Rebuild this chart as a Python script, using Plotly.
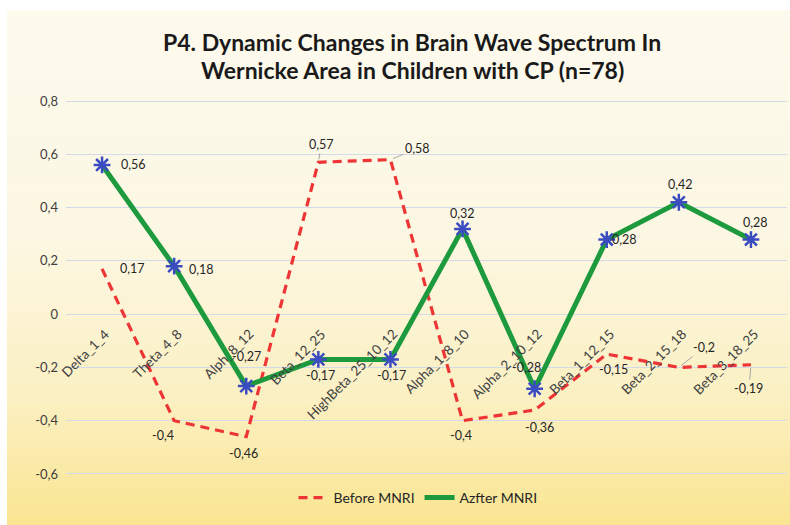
import plotly.graph_objects as go

categories = ["Delta_1_4", "Theta_4_8", "Alph_8_12", "Beta_12_25", "HighBeta_25_10_12",
              "Alpha_1_8_10", "Alpha_2_10_12", "Beta_1_12_15", "Beta_2_15_18", "Beta_3_18_25"]
before_mnri = [0.17, -0.4, -0.46, 0.57, 0.58, -0.4, -0.36, -0.15, -0.2, -0.19]
after_mnri = [0.56, 0.18, -0.27, -0.17, -0.17, 0.32, -0.28, 0.28, 0.42, 0.28]
y_tick_vals = [0.8, 0.6, 0.4, 0.2, 0, -0.2, -0.4, -0.6]
y_tick_text = ["0,8", "0,6", "0,4", "0,2", "0", "-0,2", "-0,4", "-0,6"]
title_lines = ["P4. Dynamic Changes in Brain Wave Spectrum In",
               "Wernicke Area in Children with CP (n=78)"]

# label placement (pixel offsets from point), style only
after_off = [(31, 0), (27, -3), (0, 30), (2, -16), (1, -16), (0, 15), (-8, 21), (18, 0), (2, 18), (5, 17)]
before_off = [(30, 0), (-11, -15), (-3, -17), (3, 18), (27, 11), (-2, -15), (5, -17), (7, -15), (25, 20), (-2, -24)]
before_leader = [False, False, False, True, True, False, False, False, True, True]

FONT = "Lato"
W, H = 790, 525
ML, MR, MT, MB = 66, 3, 96, 46
PW, PH = W - ML - MR, H - MT - MB

def fmt(v):
    return f"{v:g}".replace(".", ",")

def px2paper(px, py):
    return (px - ML) / PW, (H - MB - py) / PH

fig = go.Figure()
x = list(range(len(categories)))

fig.add_trace(go.Scatter(
    x=x, y=before_mnri, mode="lines", name="Before MNRI",
    line=dict(color="#ee3535", width=3.2, dash="9px,6px"),
))
fig.add_trace(go.Scatter(
    x=x, y=after_mnri, mode="lines", name="Azfter MNRI",
    line=dict(color="#1e9a3e", width=5),
))
fig.add_trace(go.Scatter(
    x=x, y=after_mnri, mode="markers", name="Azfter MNRI", showlegend=False,
    marker=dict(symbol="asterisk-open", size=14, color="#3a4cc0",
                line=dict(color="#3a4cc0", width=2.5)),
))

# gradient background
stops = [(0.0, (253, 250, 238)), (0.45, (252, 247, 226)), (0.75, (251, 240, 195)), (1.0, (250, 229, 145))]
def col(t):
    for (t0, c0), (t1, c1) in zip(stops[:-1], stops[1:]):
        if t <= t1:
            f = (t - t0) / (t1 - t0)
            return "rgb(%d,%d,%d)" % tuple(round(a + (b - a) * f) for a, b in zip(c0, c1))
    return "rgb(%d,%d,%d)" % stops[-1][1]

shapes = []
N = 60
top, bot = 10, 525
for i in range(N):
    y0p = top + (bot - top) * i / N
    y1p = top + (bot - top) * (i + 1) / N + 0.6
    x0, y0 = px2paper(7, y0p)
    x1, y1 = px2paper(790, y1p)
    shapes.append(dict(type="rect", xref="paper", yref="paper", x0=x0, x1=x1, y0=y1, y1=y0,
                       fillcolor=col((i + 0.5) / N), line=dict(width=0), layer="below"))

annotations = []
# title lines
for j, (t, py) in enumerate(zip(title_lines, [42, 70])):
    tx, ty = px2paper(412, py)
    annotations.append(dict(x=tx, y=ty, xref="paper", yref="paper", text="<b>%s</b>" % t,
                            showarrow=False, xanchor="center", yanchor="middle",
                            font=dict(family=FONT, size=23, color="#1a1a1a")))
# category labels
for i, c in enumerate(categories):
    annotations.append(dict(x=i, y=0, xref="x", yref="y", text=c, showarrow=False,
                            textangle=-45, xanchor="right", yanchor="top",
                            xshift=13, yshift=-9,
                            font=dict(family=FONT, size=13.5, color="#404040")))
# after labels
for i, v in enumerate(after_mnri):
    dx, dy = after_off[i]
    annotations.append(dict(x=i, y=v, xref="x", yref="y", text=fmt(v), showarrow=False,
                            xshift=dx, yshift=dy,
                            font=dict(family=FONT, size=12.5, color="#262626")))
# before labels
for i, v in enumerate(before_mnri):
    dx, dy = before_off[i]
    if before_leader[i]:
        annotations.append(dict(x=i, y=v, xref="x", yref="y", text=fmt(v), showarrow=True,
                                arrowhead=0, arrowwidth=1, arrowcolor="#a6a6a6",
                                ax=dx, ay=-dy, standoff=3,
                                font=dict(family=FONT, size=12.5, color="#262626")))
    else:
        annotations.append(dict(x=i, y=v, xref="x", yref="y", text=fmt(v), showarrow=False,
                                xshift=dx, yshift=dy,
                                font=dict(family=FONT, size=12.5, color="#262626")))

fig.update_layout(
    width=W, height=H,
    margin=dict(l=ML, r=MR, t=MT, b=MB),
    paper_bgcolor="white",
    plot_bgcolor="rgba(0,0,0,0)",
    xaxis=dict(range=[-0.5, len(categories) - 0.5], showgrid=False, showticklabels=False,
               zeroline=False, showline=False, ticks=""),
    yaxis=dict(range=[-0.6188, 0.8188], tickvals=y_tick_vals, ticktext=y_tick_text,
               showgrid=True, gridcolor="#d3dae8", gridwidth=1, zeroline=False,
               showline=False, ticks="", ticklabelstandoff=7,
               tickfont=dict(family=FONT, size=13, color="#404040")),
    legend=dict(orientation="h", x=(418 - ML) / PW, xanchor="center",
                y=(H - MB - 498) / PH, yanchor="middle",
                bgcolor="rgba(0,0,0,0)", font=dict(family=FONT, size=14, color="#262626")),
    shapes=shapes,
    annotations=annotations,
    showlegend=True,
)

fig.write_html("out.html", config={"displayModeBar": False},
               post_script="document.body.style.margin='0';document.body.style.padding='0';")
